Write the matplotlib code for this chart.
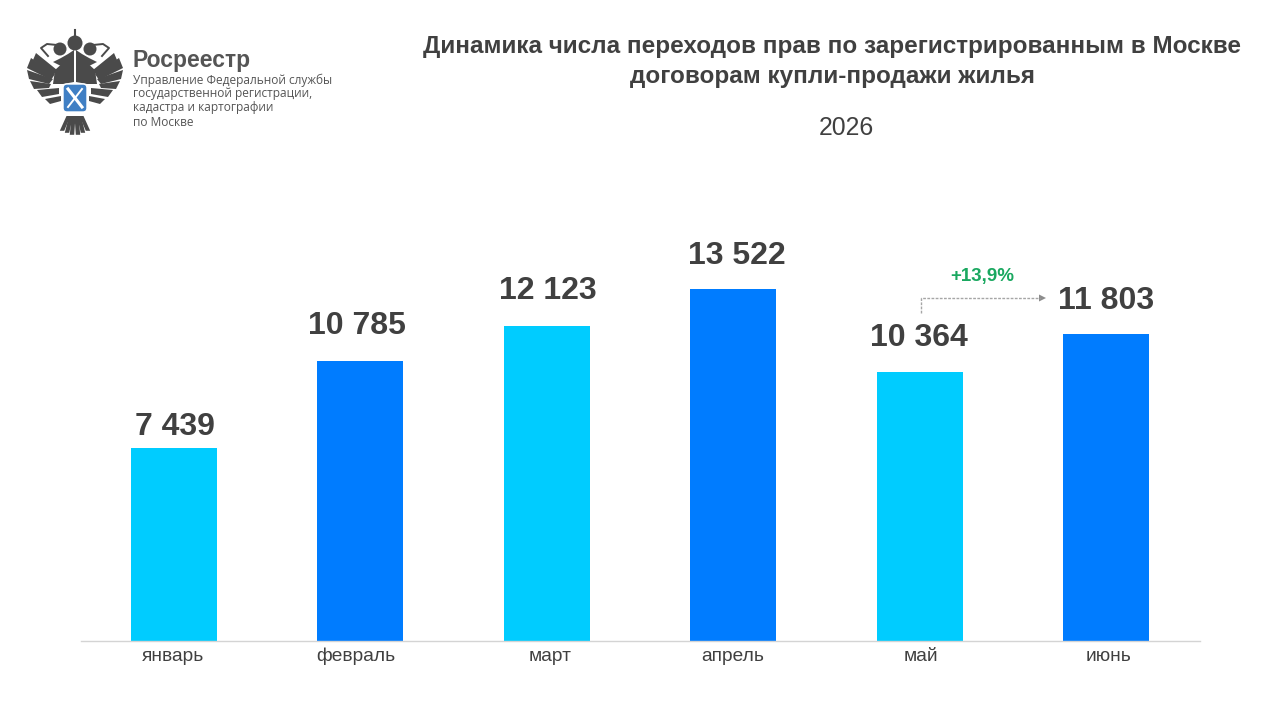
import matplotlib
matplotlib.use("Agg")
import matplotlib.pyplot as plt
from matplotlib.patches import Polygon, Circle, FancyBboxPatch
from matplotlib.transforms import ScaledTranslation

plt.rcParams['font.family'] = ['Liberation Sans', 'DejaVu Sans']

months = ['январь', 'февраль', 'март', 'апрель', 'май', 'июнь']
values = [7439, 10785, 12123, 13522, 10364, 11803]
value_labels = ['7 439', '10 785', '12 123', '13 522', '10 364', '11 803']
bar_colors = ['#00ccff', '#007cff', '#00ccff', '#007cff', '#00ccff', '#007cff']
change_label = '+13,9%'

# hand placement of labels, in pixels (the source slide has them moved by hand)
label_dx = [1, -3, 1, 4, -1, 0]
label_dy = [6, 20, 20, 18, 19, 18]
tick_dx = [-1, -4, 3, -1, 1, 2]

DARK = '#404040'
W, H = 1279, 717

fig = plt.figure(figsize=(W / 100, H / 100), dpi=100, facecolor='white')

# plot area in pixels: x 80..1199, baseline at y=641
top = 225
ax = fig.add_axes([80.5 / W, (H - 641) / H, 1119 / W, (641 - top) / H])
ax.bar(range(len(values)), values, width=0.463, color=bar_colors, zorder=2)
ax.set_xlim(-0.5, 5.5)
ax.set_ylim(0, 416 / 0.02600)
ax.set_yticks([])
ax.set_xticks(range(len(months)))
ax.set_xticklabels(months, fontsize=13.8, color=DARK)
ax.tick_params(axis='x', length=0, pad=5)
for lab, dx in zip(ax.get_xticklabels(), tick_dx):
    lab.set_transform(lab.get_transform() + ScaledTranslation(dx / 100, 0, fig.dpi_scale_trans))
for s in ['top', 'left', 'right']:
    ax.spines[s].set_visible(False)
ax.spines['bottom'].set_color('#d4d4d4')
ax.spines['bottom'].set_linewidth(1)

for i, v in enumerate(values):
    ax.annotate(value_labels[i], (i, v), xytext=(label_dx[i], label_dy[i]),
                textcoords='offset pixels', ha='center', va='bottom',
                fontsize=23, fontweight='bold', color=DARK)

# overlay in pixel coordinates for header, logo and the change arrow
ov = fig.add_axes([0, 0, 1, 1])
ov.set_xlim(0, W)
ov.set_ylim(H, 0)
ov.axis('off')
ov.patch.set_alpha(0)

ov.text(832, 46, 'Динамика числа переходов прав по зарегистрированным в Москве',
        ha='center', va='center', fontsize=17.5, fontweight='bold', color=DARK)
ov.text(832, 76, 'договорам купли-продажи жилья',
        ha='center', va='center', fontsize=17.5, fontweight='bold', color=DARK)
ov.text(846, 128, '2026', ha='center', va='center', fontsize=17.8, color=DARK)

# change arrow between май and июнь
ov.plot([921, 921, 1040], [313, 298, 298], color='#a6a6a6', lw=1, ls=(0, (2, 1)))
ov.add_patch(Polygon([[1039, 294.5], [1046, 298], [1039, 301.5]], color='#8c8c8c', lw=0))
ov.text(982, 276, change_label, ha='center', va='center', fontsize=13.5,
        fontweight='bold', color='#1aa860')

# logo text
ov.text(132, 60, 'Росреестр', ha='left', va='center', fontsize=16.5,
        fontweight='bold', color='#555555')
logo_lines = ['Управление Федеральной службы', 'государственной регистрации,',
              'кадастра и картографии', 'по Москве']
for k, line in enumerate(logo_lines):
    ov.text(133, 80 + k * 14, line, ha='left', va='center', fontsize=8.6,
            color='#555555', family=['Open Sans', 'DejaVu Sans'])

# emblem, drawn roughly
cx = 75
grey = '#4a4a4a'


def mirrored(points, **kw):
    ov.add_patch(Polygon([(cx + x, y) for x, y in points], **kw))
    ov.add_patch(Polygon([(cx - x, y) for x, y in points], **kw))


feathers = [
    [(18, 70), (39, 53), (42, 60), (22, 76)],
    [(20, 74), (44, 58), (48, 68), (24, 80)],
    [(22, 79), (48, 70), (46, 79), (26, 84)],
    [(24, 84), (45, 81), (41, 89), (26, 88)],
    [(16, 88), (38, 90), (33, 97), (16, 94)],
    [(14, 96), (30, 99), (25, 104), (14, 101)],
]
for f in feathers:
    mirrored(f, color=grey, lw=0)
# body and neck
mirrored([(1, 60), (9, 60), (20, 70), (22, 84), (12, 84), (1, 82)], color=grey, lw=0)
mirrored([(1, 50), (7, 54), (14, 58), (22, 62), (14, 66), (1, 64)], color=grey, lw=0)
# crowns and heads
for dx, y, r in [(-15, 49, 6.5), (15, 49, 6.5), (0, 43, 7.5)]:
    ov.add_patch(Circle((cx + dx, y), r, color=grey, lw=0))
ov.plot([cx, cx], [30, 37], color=grey, lw=1.5)
ov.plot([cx - 27, cx - 34, cx - 28, cx - 18], [56, 48, 44, 45], color=grey, lw=1.4)
ov.plot([cx + 27, cx + 34, cx + 28, cx + 18], [56, 48, 44, 45], color=grey, lw=1.4)
# tail and legs
for dx in [-13, -8, -3, 3, 8, 13]:
    ov.add_patch(Polygon([(cx + dx * 0.5 - 2, 116), (cx + dx * 0.5 + 2, 116),
                          (cx + dx + 2.2, 136 - abs(dx) * 0.4), (cx + dx - 2.2, 136 - abs(dx) * 0.4)],
                         color=grey, lw=0))
# shield
ov.add_patch(FancyBboxPatch((cx - 11, 85), 22, 26, boxstyle='round,pad=1,rounding_size=4',
                            fc='#3f7fc4', ec='white', lw=1, zorder=3))
ov.plot([cx - 7, cx + 7], [89, 107], color='white', lw=2.2, zorder=4)
ov.plot([cx + 7, cx - 7], [89, 107], color='white', lw=1.4, zorder=4)

fig.savefig('out.png', dpi=100, facecolor='white')
